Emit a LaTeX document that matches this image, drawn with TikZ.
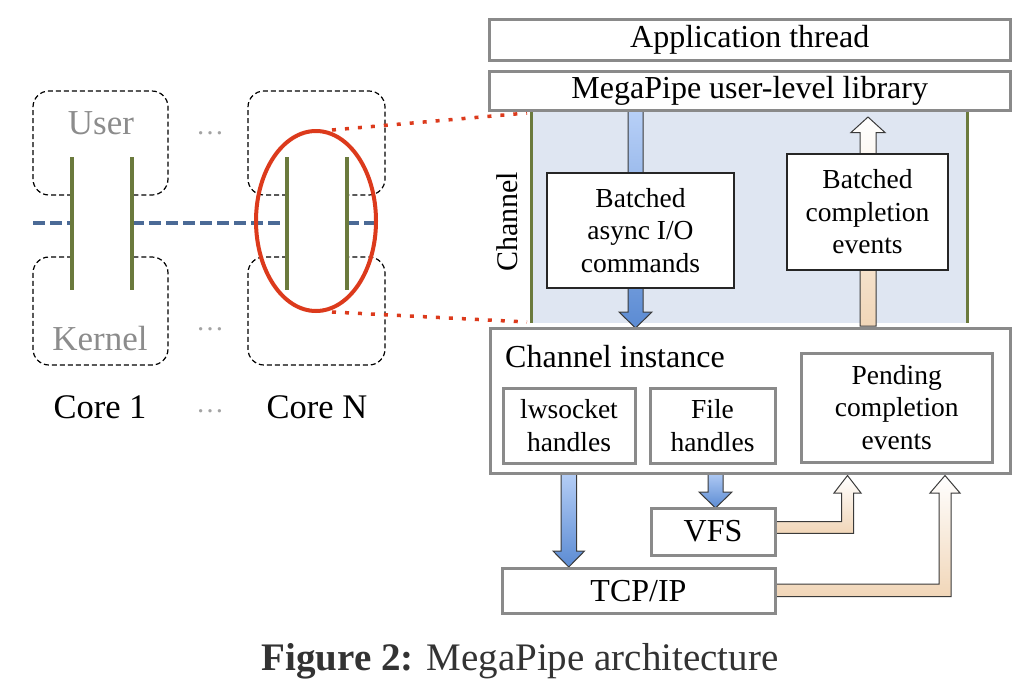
\documentclass[tikz,border=0pt]{standalone}
\usepackage{fontspec}
\setmainfont{Liberation Serif}
\usetikzlibrary{shapes.geometric}
\definecolor{boxgray}{HTML}{8A8A8A}
\definecolor{chanbg}{HTML}{DFE6F2}
\definecolor{olive}{HTML}{6B7A3D}
\definecolor{dashblue}{HTML}{4B6A96}
\definecolor{redc}{HTML}{DC3A1C}
\definecolor{labgray}{HTML}{8C8C8C}
\definecolor{bluetop}{HTML}{B8D0F7}
\definecolor{bluebot}{HTML}{5B8BD3}
\definecolor{peach}{HTML}{F1D6B8}
\definecolor{arrowedge}{HTML}{3A3A3A}
\definecolor{capgray}{HTML}{333333}
\tikzset{
  gbox/.style={draw=boxgray, line width=3pt, fill=white, inner sep=0pt, align=center},
  tbox/.style={draw=black!85, line width=1.1pt, fill=white, inner sep=0pt, align=center},
  bigtxt/.style={font=\fontsize{32}{36}\selectfont},
  smalltxt/.style={font=\fontsize{27.5}{32.5}\selectfont},
  blueA/.style={draw=arrowedge, line width=1pt, top color=bluetop, bottom color=bluebot},
  peachA/.style={draw=arrowedge, line width=1pt, top color=white, bottom color=peach},
  corebox/.style={draw=black, line width=1.2pt, dash pattern=on 5pt off 3pt, rounded corners=16pt},
  olivel/.style={draw=olive, line width=3.5pt},
  bluedash/.style={draw=dashblue, line width=3.5pt, dash pattern=on 12pt off 5pt},
  reddot/.style={draw=redc, line width=3.5pt, dash pattern=on 4pt off 9pt},
  graylab/.style={text=labgray, font=\fontsize{35}{40}\selectfont, inner sep=0pt},
  corelab/.style={text=black, font=\fontsize{34.5}{40}\selectfont, inner sep=0pt, anchor=base},
  dotslab/.style={text=labgray!80, font=\fontsize{28}{32}\selectfont, inner sep=0pt, anchor=base}
}
\begin{document}
\begin{tikzpicture}[x=1pt,y=-1pt]
\useasboundingbox[fill=white] (0,0) rectangle (1028,694);

% ---------- left: cores ----------
\draw[corebox] (72,195) -- (33,195) -- (33,91) -- (168,91) -- (168,195) -- (132,195);
\draw[corebox] (72,257) -- (33,257) -- (33,365) -- (168,365) -- (168,257) -- (132,257);
\draw[corebox] (287,195) -- (248,195) -- (248,91) -- (385,91) -- (385,195) -- (347,195);
\draw[corebox] (287,257) -- (248,257) -- (248,365) -- (385,365) -- (385,257) -- (347,257);

\path[bluedash] (33,223) -- (72,223);
\path[bluedash] (132,223) -- (287,223);
\path[bluedash] (347,223) -- (380,223);

\path[olivel] (72,157) -- (72,290);
\path[olivel] (132,157) -- (132,290);
\path[olivel] (287,157) -- (287,290);
\path[olivel] (347,157) -- (347,290);

\node[graylab] (user) at (101,123) {User};
\node[graylab] (kernel) at (100,339) {Kernel};
\node[dotslab] (dots1) at (210,134) {…};
\node[dotslab] (dots2) at (210,330) {…};

\node[corelab] (core1) at (100,418) {Core 1};
\node[dotslab] (dots3) at (210,412) {…};
\node[corelab] (coreN) at (317,418) {Core N};

\node[draw=redc, line width=4pt, ellipse, minimum width=120pt, minimum height=180pt, inner sep=0pt] (zoomell) at (316,221) {};
\coordinate (dtop) at (527,113);
\coordinate (dbot) at (527,322);
\path[reddot] (332,130) -- (dtop);
\path[reddot] (332,312) -- (dbot);

% ---------- right: channel ----------
\fill[chanbg] (531,112) rectangle (967,323);
\path[olivel, line width=3pt] (531,112) -- (531,323);
\path[olivel, line width=3pt] (967,112) -- (967,323);
\node[bigtxt, rotate=90, inner sep=0pt, font=\fontsize{30}{34}\selectfont] (chan) at (507,222) {Channel};

% arrows (behind boxes)
\path[blueA] (628,110) -- (643,110) -- (643,312) -- (652,312) -- (635.5,328) -- (619,312) -- (628,312) -- cycle;
\path[peachA] (860,326) -- (860,132.5) -- (851,132.5) -- (868,117) -- (885,132.5) -- (876,132.5) -- (876,326) -- cycle;
\path[blueA] (561,470) -- (576.5,470) -- (576.5,551) -- (584.5,551) -- (568.75,567) -- (553,551) -- (561,551) -- cycle;
\path[blueA] (708,470) -- (723,470) -- (723,492) -- (732,492) -- (715.5,508) -- (699,492) -- (708,492) -- cycle;
\path[peachA] (775,521.7) -- (841.5,521.7) -- (841.5,493) -- (834,493) -- (847.5,475.5) -- (861,493) -- (853.5,493) -- (853.5,533.3) -- (775,533.3) -- cycle;
\path[peachA] (775,584) -- (939,584) -- (939,493) -- (930,493) -- (945,475.5) -- (960,493) -- (951,493) -- (951,596.7) -- (775,596.7) -- cycle;

% boxes
\node[gbox, bigtxt, minimum width=520.5pt, minimum height=41pt] (app) at (749.75,40) {Application thread};
\node[gbox, bigtxt, minimum width=520.5pt, minimum height=39pt] (lib) at (749.75,91) {MegaPipe user-level library};
\node[tbox, smalltxt, minimum width=187pt, minimum height=115pt] (bcmd) at (640.5,230.5) {Batched\\async I/O\\commands};
\node[tbox, smalltxt, minimum width=161pt, minimum height=116pt] (bevt) at (867.5,212) {Batched\\completion\\events};

\node[gbox, minimum width=520pt, minimum height=145.5pt] (inst) at (750,400.75) {};
\node[bigtxt, anchor=base west, inner sep=0pt] (instlab) at (505,367) {Channel instance};
\node[gbox, smalltxt, minimum width=132pt, minimum height=75.5pt] (lws) at (569,425.75) {lwsocket\\handles};
\node[gbox, smalltxt, minimum width=125pt, minimum height=75.5pt] (fh) at (712.5,425.75) {File\\handles};
\node[gbox, smalltxt, minimum width=191.5pt, minimum height=109pt] (pend) at (896.75,407.5) {Pending\\completion\\events};

\node[gbox, bigtxt, minimum width=124pt, minimum height=47pt] (vfs) at (713,531.5) {VFS};
\node[gbox, bigtxt, minimum width=273pt, minimum height=45.5pt] (tcp) at (638.5,590.75) {TCP/IP};

% caption
\node[anchor=base, inner sep=0pt, text=capgray, font=\fontsize{39}{44}\selectfont] (cap) at (520,670) {\textbf{Figure 2:} MegaPipe architecture};
\end{tikzpicture}
\end{document}
